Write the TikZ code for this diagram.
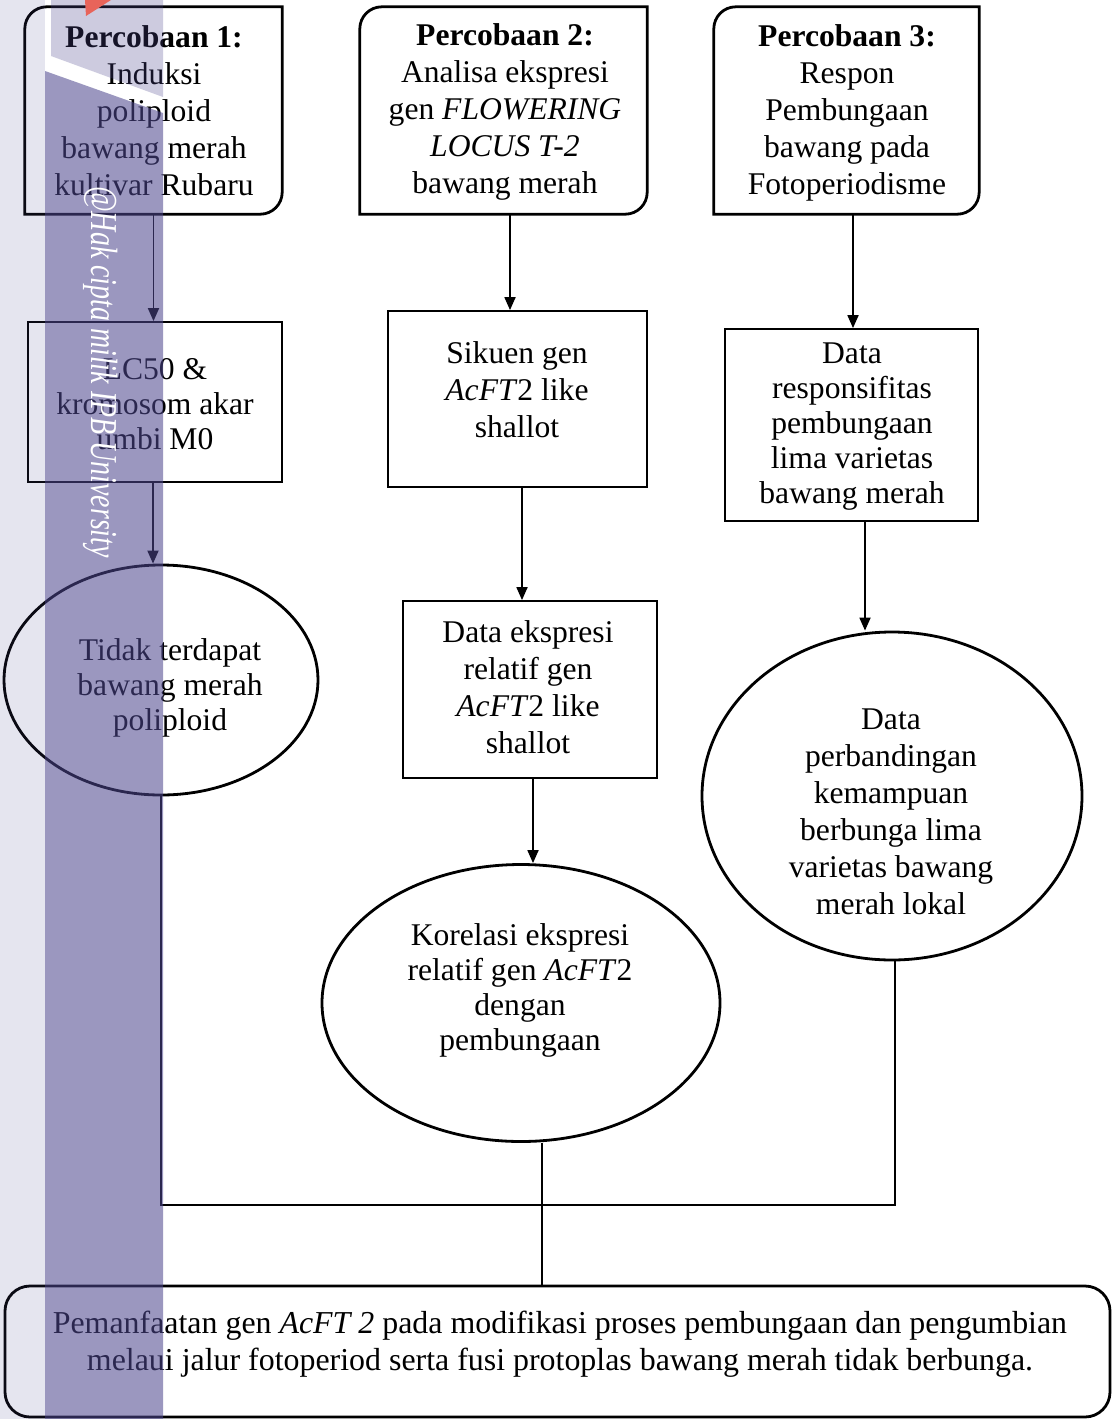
\documentclass[tikz,border=0pt]{standalone}
\usepackage{fontspec}
\setmainfont{Liberation Serif}
\usetikzlibrary{arrows.meta,shapes.geometric,calc}
\definecolor{wm}{RGB}{77,71,142}
\definecolor{wmred}{RGB}{232,100,90}
\begin{document}
\begin{tikzpicture}[x=1pt,y=-1pt,
  txt/.style={align=center,font=\fontsize{31.6}{37}\selectfont,inner sep=0pt},
  tight/.style={font=\fontsize{31.6}{35}\selectfont},
  holder/.style={draw=none,inner sep=0pt,minimum width=#1},
  pline/.style={line width=2.8pt},
  rect/.style={draw,line width=1.8pt,inner sep=0pt},
  ell/.style={draw,ellipse,line width=2.8pt,inner sep=0pt},
  arr/.style={line width=1.8pt,-{Triangle[length=13pt,width=11pt]}},
  conn/.style={line width=1.6pt}]
\useasboundingbox (0,0) rectangle (1113,1419);
\fill[white] (0,0) rectangle (1113,1419);

% ---- top boxes (Percobaan) ----
\node[holder=257pt,minimum height=207pt] (p1) at (153.5,110.5) {};
\node[holder=287pt,minimum height=207pt] (p2) at (503.5,110.5) {};
\node[holder=265pt,minimum height=207pt] (p3) at (846.5,110.5) {};
\foreach \p in {p1,p2,p3}{
  \draw[pline] (\p.north east) [rounded corners=22pt] -- (\p.south east) [sharp corners] -- (\p.south west) [rounded corners=22pt] -- (\p.north west) [sharp corners] -- cycle;
}
\node[txt] (p1t) at (154,111) {\textbf{Percobaan 1:}\\Induksi\\poliploid\\bawang merah\\kultivar Rubaru};
\node[txt] (p2t) at (505,112) {\textbf{Percobaan 2:}\\Analisa ekspresi\\gen \textit{FLOWERING}\\\textit{LOCUS T-2}\\bawang merah};
\node[txt] (p3t) at (847,113) {\textbf{Percobaan 3:}\\Respon\\Pembungaan\\bawang pada\\Fotoperiodisme};

% ---- column 1 ----
\node[rect,minimum width=254pt,minimum height=160pt] (lc) at (155,402) {};
\node[txt,tight] (lct) at (155,404) {LC50 \&\\kromosom akar\\umbi M0};
\node[ell,minimum width=314pt,minimum height=230pt] (e1) at (161,680) {};
\node[txt,tight] (e1t) at (170,688) {Tidak terdapat\\bawang merah\\poliploid};

% ---- column 2 ----
\node[rect,minimum width=259pt,minimum height=176pt] (sik) at (517.5,399) {};
\node[txt] (sikt) at (517,390) {Sikuen gen\\\textit{AcFT}2 like\\shallot};
\node[rect,minimum width=254pt,minimum height=177pt] (dex) at (530,689.5) {};
\node[txt] (dext) at (528,687) {Data ekspresi\\relatif gen\\\textit{AcFT}2 like\\shallot};
\node[ell,minimum width=398pt,minimum height=277pt] (kor) at (521,1003) {};
\node[txt,tight] (kort) at (520,990) {Korelasi ekspresi\\relatif gen \textit{AcFT}2\\dengan\\pembungaan};

% ---- column 3 ----
\node[rect,minimum width=253pt,minimum height=192pt] (resp) at (851.5,425) {};
\node[txt,tight] (respt) at (852,427) {Data\\responsifitas\\pembungaan\\lima varietas\\bawang merah};
\node[ell,minimum width=380pt,minimum height=328pt] (cir) at (892,796) {};
\node[txt] (cirt) at (891,812) {Data\\perbandingan\\kemampuan\\berbunga lima\\varietas bawang\\merah lokal};

% ---- bottom box ----
\node[draw,rounded corners=25pt,line width=2.8pt,inner sep=0pt,minimum width=1105pt,minimum height=131pt] (bot) at (557.5,1351.5) {};
\node[txt,font=\fontsize{31.9}{37}\selectfont] (bott) at (560,1344.5) {Pemanfaatan gen \textit{AcFT 2} pada modifikasi proses pembungaan dan pengumbian\\melaui jalur fotoperiod serta fusi protoplas bawang merah tidak berbunga.};

% ---- arrows ----
\draw[arr] (p1.south) -- (p1.south |- lc.north);
\draw[arr] ([xshift=-2pt]lc.south) -- ([xshift=-2pt]lc.south |- e1.north);
\draw[arr] ([xshift=6.5pt]p2.south) -- ([xshift=6.5pt]p2.south |- sik.north);
\draw[arr] ([xshift=4.5pt]sik.south) -- ([xshift=4.5pt]sik.south |- dex.north);
\draw[arr] ([xshift=3pt]dex.south) -- ([xshift=3pt]dex.south |- kor.north);
\draw[arr] ([xshift=6.5pt]p3.south) -- ([xshift=6.5pt]p3.south |- resp.north);
\draw[arr] ([xshift=13.5pt]resp.south) -- ([xshift=13.5pt]resp.south |- cir.north);

% ---- joining lines ----
\coordinate (jy) at (0,1205);
\draw[conn] (e1.south) |- ([xshift=3pt]cir.south |- jy) -- ([xshift=3pt]cir.south);
\draw[conn] ([xshift=21pt]kor.south) -- ([xshift=21pt]kor.south |- bot.north);

% ---- watermark ----
\fill[wm,fill opacity=0.14] (0,0) rectangle (45,1419);
\fill[wm,fill opacity=0.56] (45,71) -- (163,113) -- (163,1419) -- (45,1419) -- cycle;
\fill[wm,fill opacity=0.28] (51,0) -- (163,0) -- (163,97) -- (51,56) -- cycle;
\fill[wmred] (85,0) -- (111,0) -- (86,16) -- cycle;
\node[text=white,rotate=-90,inner sep=0pt,font=\fontsize{38}{40}\selectfont\itshape] (wmt) at (101,372) {\scalebox{0.735}[1]{@Hak cipta milik IPB University}};
\end{tikzpicture}
\end{document}
